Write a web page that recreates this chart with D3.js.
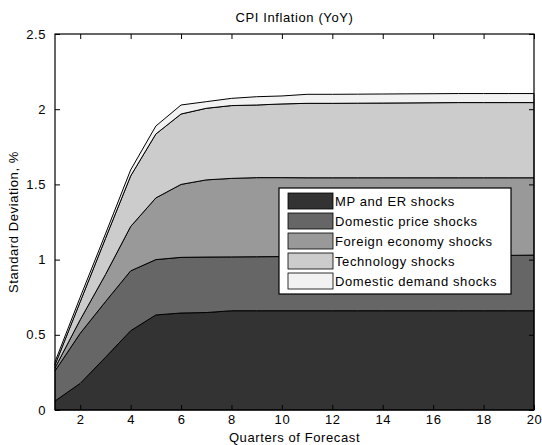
<!DOCTYPE html>
<html>
<head>
<meta charset="utf-8">
<script src="https://cdn.jsdelivr.net/npm/d3@7"></script>
<style>
  body { margin: 0; background: #fff; }
  text { font-family: "Liberation Sans", Arial, sans-serif; letter-spacing: 0.6px; }
</style>
</head>
<body>
<svg id="chart" width="542" height="445"></svg>
<script>
// quarters of forecast
var quarters = [1,2,3,4,5,6,7,8,9,10,11,12,13,14,15,16,17,18,19,20];

// contribution of each shock group to the std. deviation
var mpEr     = [0.06,0.177,0.35,0.527,0.632,0.645,0.648,0.66,0.66,0.66,0.66,0.66,0.66,0.66,0.66,0.66,0.66,0.66,0.66,0.66];
var domPrice = [0.20,0.333,0.37,0.398,0.368,0.37,0.369,0.358,0.359,0.36,0.36,0.361,0.362,0.363,0.364,0.365,0.366,0.367,0.368,0.37];
var foreign  = [0.02,0.09,0.18,0.295,0.41,0.485,0.513,0.522,0.526,0.525,0.524,0.523,0.522,0.521,0.52,0.519,0.518,0.517,0.516,0.514];
var tech     = [0.02,0.12,0.24,0.336,0.425,0.468,0.476,0.484,0.483,0.49,0.495,0.495,0.496,0.497,0.498,0.499,0.5,0.5,0.5,0.5];
var demand   = [0.02,0.03,0.03,0.04,0.053,0.06,0.044,0.048,0.055,0.053,0.06,0.06,0.06,0.06,0.06,0.06,0.06,0.06,0.06,0.06];

var seriesNames = ["MP and ER shocks", "Domestic price shocks", "Foreign economy shocks", "Technology shocks", "Domestic demand shocks"];
var seriesValues = [mpEr, domPrice, foreign, tech, demand];
var colors = ["#333333", "#666666", "#999999", "#cccccc", "#f2f2f2"];

var xTicks = [2,4,6,8,10,12,14,16,18,20];
var yTicks = [0,0.5,1,1.5,2,2.5];

(function(){
	var pL = 55, pR = 534, pT = 34, pB = 410;
	var fontSize = "13px";

	var svg = d3.select("#chart");

	var x = d3.scaleLinear().domain([1, 20]).range([pL, pR]);
	var y = d3.scaleLinear().domain([0, 2.5]).range([pB, pT]);

	// build rows for the stack
	var rows = quarters.map(function(q, i){
		var r = { q: q };
		seriesNames.forEach(function(n, j){ r[n] = seriesValues[j][i]; });
		return r;
	});

	var stacked = d3.stack().keys(seriesNames)(rows);

	var area = d3.area()
		.x(function(d){ return x(d.data.q); })
		.y0(function(d){ return y(d[0]); })
		.y1(function(d){ return y(d[1]); });

	svg.append("g")
		.selectAll("path")
		.data(stacked)
		.enter()
		.append("path")
		.attr("d", area)
		.attr("fill", function(d, i){ return colors[i]; })
		.attr("stroke", "#000")
		.attr("stroke-width", 1)
		.attr("stroke-linejoin", "round");

	function styleText(g){
		g.select(".domain").remove();
		g.selectAll("text").attr("font-size", fontSize).attr("fill", "#000")
			.attr("font-family", "Liberation Sans, Arial, sans-serif");
	}

	// axes (ticks inside, box all round)
	svg.append("g")
		.attr("transform", "translate(0," + pB + ")")
		.call(d3.axisBottom(x).tickValues(xTicks).tickSizeInner(-5).tickSizeOuter(0).tickPadding(5))
		.call(styleText);

	svg.append("g")
		.attr("transform", "translate(0," + pT + ")")
		.call(d3.axisTop(x).tickValues(xTicks).tickSizeInner(-5).tickSizeOuter(0).tickFormat(""))
		.call(styleText);

	svg.append("g")
		.attr("transform", "translate(" + pL + ",0)")
		.call(d3.axisLeft(y).tickValues(yTicks).tickSizeInner(-5).tickSizeOuter(0).tickPadding(9)
			.tickFormat(function(d){ return String(d); }))
		.call(styleText);

	svg.append("g")
		.attr("transform", "translate(" + pR + ",0)")
		.call(d3.axisRight(y).tickValues(yTicks).tickSizeInner(-5).tickSizeOuter(0).tickFormat(""))
		.call(styleText);

	svg.append("rect")
		.attr("x", pL)
		.attr("y", pT)
		.attr("width", pR - pL)
		.attr("height", pB - pT)
		.attr("fill", "none")
		.attr("stroke", "#000")
		.attr("stroke-width", 1.2);

	// titles
	svg.append("text")
		.attr("x", (pL + pR) / 2)
		.attr("y", 22)
		.attr("text-anchor", "middle")
		.attr("font-size", fontSize)
		.text("CPI Inflation (YoY)");

	svg.append("text")
		.attr("x", (pL + pR) / 2)
		.attr("y", 442)
		.attr("text-anchor", "middle")
		.attr("font-size", fontSize)
		.text("Quarters of Forecast");

	svg.append("text")
		.attr("transform", "translate(18," + ((pT + pB) / 2) + ") rotate(-90)")
		.attr("text-anchor", "middle")
		.attr("font-size", fontSize)
		.text("Standard Deviation, %");

	// legend
	var legend = svg.append("g").attr("transform", "translate(279,188)");

	legend.append("rect")
		.attr("x", 0).attr("y", 0)
		.attr("width", 232).attr("height", 106)
		.attr("fill", "#fff")
		.attr("stroke", "#000")
		.attr("stroke-width", 1.2);

	var item = legend.selectAll("g.item")
		.data(seriesNames)
		.enter()
		.append("g")
		.attr("class", "item")
		.attr("transform", function(d, i){ return "translate(0," + (13 + i * 20) + ")"; });

	item.append("rect")
		.attr("x", 9).attr("y", -8)
		.attr("width", 45).attr("height", 16)
		.attr("fill", function(d, i){ return colors[i]; })
		.attr("stroke", "#000")
		.attr("stroke-width", 0.8);

	item.append("text")
		.attr("x", 56)
		.attr("y", 0)
		.attr("dy", "0.35em")
		.attr("font-size", fontSize)
		.text(function(d){ return d; });
})();
</script>
</body>
</html>
